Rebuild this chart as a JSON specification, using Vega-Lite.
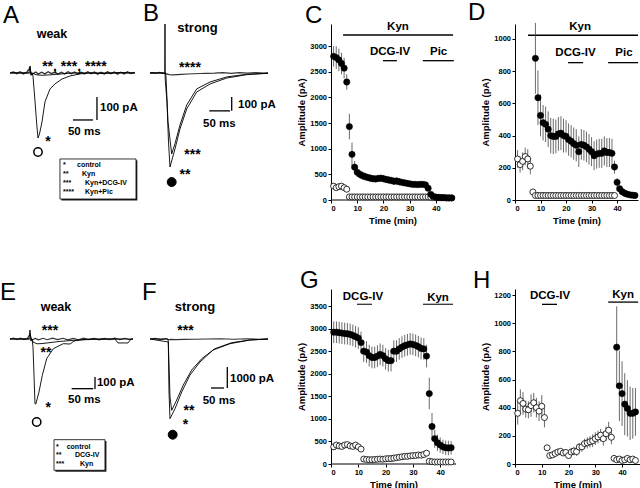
{
"$schema":"https://vega.github.io/schema/vega-lite/v6.json",
"padding":{"left":0,"top":0,"right":0,"bottom":0},
"config":{"view":{"stroke":null},"font":"Liberation Sans","text":{"color":"black"},
 "title":{"fontSize":24,"fontWeight":"normal","anchor":"start","frame":"group","baseline":"top","color":"black","font":"Liberation Sans"},
 "axis":{"labelFontSize":7.5,"labelFontWeight":"bold","titleFontSize":9.5,"titleFontWeight":"bold","tickSize":3,"domainColor":"black","tickColor":"black","labelColor":"black","titleColor":"black","grid":false,"labelPadding":1.5,"titlePadding":3,"format":"d"}},
"datasets":{
"A_tr":[
{"k":"c","x":-48.4,"y":0},{"k":"c","x":-2.4,"y":0},{"k":"c","x":0,"y":30},{"k":"c","x":2.4,"y":-9},{"k":"c","x":4.8,"y":0},{"k":"c","x":7.3,"y":-13},{"k":"c","x":12.1,"y":-120},{"k":"c","x":16.9,"y":-232},{"k":"c","x":19.4,"y":-279},{"k":"c","x":23,"y":-262},{"k":"c","x":29.1,"y":-210},{"k":"c","x":36.3,"y":-124},{"k":"c","x":48.4,"y":-69},{"k":"c","x":60.5,"y":-47},{"k":"c","x":77.5,"y":-26},{"k":"c","x":96.9,"y":-13},{"k":"c","x":121,"y":-4},{"k":"c","x":145,"y":0},{"k":"c","x":180,"y":-3},{"k":"c","x":215,"y":2},{"k":"c","x":254,"y":0},
{"k":"b","x":-48,"y":0},{"k":"b","x":-40,"y":4},{"k":"b","x":-32,"y":-3},{"k":"b","x":-24,"y":5},{"k":"b","x":-16,"y":-4},{"k":"b","x":-8,"y":3},{"k":"b","x":0,"y":22},{"k":"b","x":3,"y":-8},{"k":"b","x":8,"y":-3},{"k":"b","x":14,"y":4},{"k":"b","x":20,"y":-5},{"k":"b","x":28,"y":3},{"k":"b","x":36,"y":-4},{"k":"b","x":44,"y":5},{"k":"b","x":52,"y":-3},{"k":"b","x":60,"y":4},{"k":"b","x":68,"y":-5},{"k":"b","x":76,"y":3},{"k":"b","x":84,"y":-4},{"k":"b","x":92,"y":5},{"k":"b","x":100,"y":-3},{"k":"b","x":108,"y":4},{"k":"b","x":116,"y":-5},{"k":"b","x":124,"y":3},{"k":"b","x":132,"y":-4},{"k":"b","x":140,"y":5},{"k":"b","x":148,"y":-3},{"k":"b","x":156,"y":4},{"k":"b","x":164,"y":-5},{"k":"b","x":172,"y":3},{"k":"b","x":180,"y":-4},{"k":"b","x":188,"y":5},{"k":"b","x":196,"y":-3},{"k":"b","x":204,"y":4},{"k":"b","x":212,"y":-5},{"k":"b","x":220,"y":3},{"k":"b","x":228,"y":-4},{"k":"b","x":236,"y":5},{"k":"b","x":244,"y":-3},{"k":"b","x":254,"y":2},
{"k":"k","x":-48,"y":0},{"k":"k","x":5,"y":0},{"k":"k","x":15,"y":-8},{"k":"k","x":30,"y":-10},{"k":"k","x":50,"y":-8},{"k":"k","x":70,"y":-5},{"k":"k","x":90,"y":-2},{"k":"k","x":110,"y":0},{"k":"k","x":254,"y":0}],
"A_bar":[{"x":162.2,"x2":162.2,"y":-103,"y2":-201.7},{"x":104.1,"x2":152.5,"y":-201.7,"y2":-201.7}],
"A_box":[{"k":"sh","x":76,"x2":260,"y":-375,"y2":-547},{"k":"bx","x":72.6,"x2":256.7,"y":-369,"y2":-540.8}],
"A_tx":[
{"r":"lab","x":53.3,"y":167.4,"t":"weak"},
{"r":"ast","x":107.7,"y":25.8,"t":"**, ***, ****"},{"r":"ast","x":43.6,"y":-296,"t":"*"},
{"r":"bar","x":169.5,"y":-150,"t":"100 pA"},{"r":"bar","x":92,"y":-253,"t":"50 ms"},
{"r":"leg","x":79.9,"y":-394,"t":"*"},{"r":"leg","x":79.9,"y":-433,"t":"**"},{"r":"leg","x":79.9,"y":-472,"t":"***"},{"r":"leg","x":79.9,"y":-511,"t":"****"},
{"r":"leg","x":113.8,"y":-394,"t":"control"},{"r":"leg","x":125.9,"y":-433,"t":"Kyn"},{"r":"leg","x":133.2,"y":-472,"t":"Kyn+DCG-IV"},{"r":"leg","x":133.2,"y":-511,"t":"Kyn+Pic"}],
"A_sym":[{"x":19.4,"y":-339}],
"B_tr":[
{"k":"o","x":-36.3,"y":0},{"k":"o","x":-0.5,"y":0},{"k":"o","x":0,"y":368},{"k":"o","x":0.5,"y":-45},{"k":"o","x":4.8,"y":-218},{"k":"o","x":8.5,"y":-519},{"k":"o","x":12.1,"y":-707},{"k":"o","x":24.2,"y":-571},{"k":"o","x":36.3,"y":-421},{"k":"o","x":52.5,"y":-271},{"k":"o","x":76.8,"y":-143},{"k":"o","x":109,"y":-83},{"k":"o","x":149.4,"y":-38},{"k":"o","x":197.8,"y":-13},{"k":"o","x":249.4,"y":-2},
{"k":"i","x":-36.3,"y":0},{"k":"i","x":1.5,"y":0},{"k":"i","x":2.4,"y":-30},{"k":"i","x":7.3,"y":-368},{"k":"i","x":16.2,"y":-609},{"k":"i","x":24.2,"y":-532},{"k":"i","x":36.3,"y":-391},{"k":"i","x":52.5,"y":-241},{"k":"i","x":76.8,"y":-120},{"k":"i","x":109,"y":-68},{"k":"i","x":149.4,"y":-30},{"k":"i","x":197.8,"y":-10},{"k":"i","x":249.4,"y":-2},
{"k":"b","x":-36.3,"y":0},{"k":"b","x":-30,"y":3},{"k":"b","x":-22,"y":-3},{"k":"b","x":-14,"y":4},{"k":"b","x":-6,"y":-3},{"k":"b","x":2,"y":-5},{"k":"b","x":10,"y":-12},{"k":"b","x":20,"y":-15},{"k":"b","x":30,"y":-12},{"k":"b","x":40,"y":-10},{"k":"b","x":55,"y":-8},{"k":"b","x":70,"y":-6},{"k":"b","x":85,"y":-4},{"k":"b","x":100,"y":-3},{"k":"b","x":120,"y":-2},{"k":"b","x":140,"y":2},{"k":"b","x":160,"y":-3},{"k":"b","x":180,"y":2},{"k":"b","x":200,"y":-2},{"k":"b","x":220,"y":2},{"k":"b","x":240,"y":-1},{"k":"b","x":249.4,"y":0}],
"B_bar":[{"x":161.5,"x2":161.5,"y":-180,"y2":-285},{"x":107.3,"x2":157.4,"y":-285,"y2":-285}],
"B_tx":[
{"r":"lab","x":78.7,"y":338,"t":"strong"},
{"r":"ast","x":60.5,"y":37.6,"t":"****"},{"r":"ast","x":66.6,"y":-617,"t":"***"},{"r":"ast","x":48.4,"y":-767,"t":"**"},
{"r":"bar","x":176.8,"y":-240.6,"t":"100 pA"},{"r":"bar","x":92,"y":-387,"t":"50 ms"}],
"B_sym":[{"x":16.2,"y":-820}],
"E_tr":[
{"k":"c","x":-46.3,"y":0},{"k":"c","x":-2.3,"y":0},{"k":"c","x":0,"y":75},{"k":"c","x":2.3,"y":-17},{"k":"c","x":4.6,"y":0},{"k":"c","x":6.9,"y":-60},{"k":"c","x":9.3,"y":-300},{"k":"c","x":11.6,"y":-540},{"k":"c","x":13.5,"y":-542},{"k":"c","x":20.8,"y":-442},{"k":"c","x":28.5,"y":-303},{"k":"c","x":38.6,"y":-164},{"k":"c","x":54,"y":-81},{"k":"c","x":77,"y":-39},{"k":"c","x":92.6,"y":-42},{"k":"c","x":101.9,"y":-17},{"k":"c","x":115.7,"y":-8},{"k":"c","x":138.9,"y":0},{"k":"c","x":196.8,"y":0},{"k":"c","x":203.7,"y":-33},{"k":"c","x":226.9,"y":-33},{"k":"c","x":233.8,"y":0},{"k":"c","x":238.4,"y":0},
{"k":"d","x":-46.3,"y":0},{"k":"d","x":4.6,"y":0},{"k":"d","x":6.9,"y":-25},{"k":"d","x":16.2,"y":-40},{"k":"d","x":27.8,"y":-38},{"k":"d","x":46.3,"y":-30},{"k":"d","x":69.4,"y":-20},{"k":"d","x":104.2,"y":-10},{"k":"d","x":138.9,"y":-4},{"k":"d","x":185.2,"y":0},{"k":"d","x":238.4,"y":0},
{"k":"b","x":-46.3,"y":0},{"k":"b","x":-38,"y":8},{"k":"b","x":-30,"y":-6},{"k":"b","x":-22,"y":7},{"k":"b","x":-14,"y":-5},{"k":"b","x":-6,"y":6},{"k":"b","x":0,"y":40},{"k":"b","x":4,"y":-8},{"k":"b","x":12,"y":5},{"k":"b","x":20,"y":-7},{"k":"b","x":30,"y":6},{"k":"b","x":40,"y":-6},{"k":"b","x":52,"y":7},{"k":"b","x":64,"y":-5},{"k":"b","x":76,"y":6},{"k":"b","x":88,"y":-7},{"k":"b","x":100,"y":5},{"k":"b","x":112,"y":-6},{"k":"b","x":124,"y":7},{"k":"b","x":136,"y":-5},{"k":"b","x":148,"y":6},{"k":"b","x":160,"y":-7},{"k":"b","x":172,"y":5},{"k":"b","x":184,"y":-6},{"k":"b","x":196,"y":7},{"k":"b","x":208,"y":-5},{"k":"b","x":220,"y":6},{"k":"b","x":230,"y":-6},{"k":"b","x":238.4,"y":0}],
"E_bar":[{"x":150.5,"x2":150.5,"y":-316.7,"y2":-416.7},{"x":96.5,"x2":146.5,"y":-414,"y2":-414}],
"E_box":[{"k":"sh","x":59,"x2":177,"y":-851,"y2":-1106},{"k":"bx","x":55.6,"x2":173.6,"y":-839,"y2":-1094}],
"E_tx":[
{"r":"lab","x":60.2,"y":266.7,"t":"weak"},
{"r":"ast","x":46.3,"y":70.8,"t":"***"},{"r":"ast","x":37,"y":-112.5,"t":"**"},{"r":"ast","x":42.4,"y":-577.5,"t":"*"},
{"r":"bar","x":155,"y":-366.7,"t":"100 pA"},{"r":"bar","x":88,"y":-508,"t":"50 ms"},
{"r":"leg","x":60.2,"y":-900,"t":"*"},{"r":"leg","x":60.2,"y":-967,"t":"**"},{"r":"leg","x":60.2,"y":-1042,"t":"***"},
{"r":"leg","x":85,"y":-900,"t":"control"},{"r":"leg","x":104,"y":-967,"t":"DCG-IV"},{"r":"leg","x":115.7,"y":-1042,"t":"Kyn"}],
"E_sym":[{"x":15.5,"y":-691.7}],
"F_tr":[
{"k":"o","x":-70.4,"y":0},{"k":"o","x":-1,"y":0},{"k":"o","x":0,"y":-150},{"k":"o","x":2.7,"y":-2650},{"k":"o","x":6.5,"y":-3985},{"k":"o","x":25.8,"y":-3485},{"k":"o","x":51.5,"y":-2650},{"k":"o","x":83.5,"y":-1800},{"k":"o","x":121.9,"y":-1150},{"k":"o","x":171.9,"y":-550},{"k":"o","x":237.3,"y":-235},{"k":"o","x":314.2,"y":-50},{"k":"o","x":383.5,"y":0},
{"k":"i","x":-70.4,"y":0},{"k":"i","x":0,"y":-150},{"k":"i","x":6.5,"y":-2900},{"k":"i","x":13.1,"y":-3565},{"k":"i","x":32.3,"y":-3050},{"k":"i","x":57.7,"y":-2300},{"k":"i","x":90,"y":-1550},{"k":"i","x":128.5,"y":-985},{"k":"i","x":179.6,"y":-485},{"k":"i","x":243.8,"y":-185},{"k":"i","x":314.2,"y":-50},{"k":"i","x":383.5,"y":0},
{"k":"b","x":-70.4,"y":0},{"k":"b","x":-50,"y":30},{"k":"b","x":-30,"y":-30},{"k":"b","x":-10,"y":20},{"k":"b","x":0,"y":-40},{"k":"b","x":10,"y":-20},{"k":"b","x":30,"y":-30},{"k":"b","x":60,"y":-20},{"k":"b","x":100,"y":-15},{"k":"b","x":150,"y":0},{"k":"b","x":200,"y":10},{"k":"b","x":250,"y":-10},{"k":"b","x":300,"y":10},{"k":"b","x":350,"y":-10},{"k":"b","x":383.5,"y":0}],
"F_bar":[{"x":226.9,"x2":226.9,"y":-1400,"y2":-2450},{"x":164.2,"x2":214.2,"y":-2450,"y2":-2450}],
"F_tx":[
{"r":"lab","x":102.7,"y":1600,"t":"strong"},
{"r":"ast","x":66.2,"y":425,"t":"***"},{"r":"ast","x":79.6,"y":-3575,"t":"**"},{"r":"ast","x":66.2,"y":-4275,"t":"*"},
{"r":"bar","x":237.3,"y":-2000,"t":"1000 pA"},{"r":"bar","x":132.3,"y":-3100,"t":"50 ms"}],
"F_sym":[{"x":16.9,"y":-4785}],
"C":[
{"p":"s","x":1,"y":2800,"e":200},{"p":"s","x":2,"y":2775,"e":220},{"p":"s","x":3,"y":2730,"e":220},{"p":"s","x":4,"y":2660,"e":210},{"p":"s","x":5,"y":2570,"e":200},{"p":"s","x":6,"y":2300,"e":150},{"p":"s","x":7,"y":1430,"e":250},{"p":"s","x":8,"y":890,"e":230},{"p":"s","x":9,"y":640,"e":120},{"p":"s","x":10,"y":540,"e":90},{"p":"s","x":11,"y":500,"e":80},{"p":"s","x":12,"y":475,"e":80},{"p":"s","x":13,"y":455,"e":75},{"p":"s","x":14,"y":440,"e":70},{"p":"s","x":15,"y":425,"e":70},{"p":"s","x":16,"y":415,"e":70},{"p":"s","x":17,"y":410,"e":70},{"p":"s","x":18,"y":420,"e":70},{"p":"s","x":19,"y":425,"e":70},{"p":"s","x":20,"y":415,"e":70},{"p":"s","x":21,"y":400,"e":70},{"p":"s","x":22,"y":390,"e":70},{"p":"s","x":23,"y":380,"e":70},{"p":"s","x":24,"y":365,"e":70},{"p":"s","x":25,"y":370,"e":70},{"p":"s","x":26,"y":355,"e":70},{"p":"s","x":27,"y":345,"e":65},{"p":"s","x":28,"y":335,"e":65},{"p":"s","x":29,"y":325,"e":65},{"p":"s","x":30,"y":315,"e":60},{"p":"s","x":31,"y":305,"e":60},{"p":"s","x":32,"y":305,"e":60},{"p":"s","x":33,"y":300,"e":60},{"p":"s","x":34,"y":305,"e":60},{"p":"s","x":35,"y":305,"e":60},{"p":"s","x":36,"y":295,"e":60},{"p":"s","x":37,"y":230,"e":60},{"p":"s","x":38,"y":110,"e":30},{"p":"s","x":39,"y":70,"e":20},{"p":"s","x":40,"y":55,"e":15},{"p":"s","x":41,"y":50,"e":15},{"p":"s","x":42,"y":45,"e":12},{"p":"s","x":43,"y":45,"e":12},{"p":"s","x":44,"y":42,"e":12},{"p":"s","x":45,"y":40,"e":12},{"p":"s","x":46,"y":40,"e":12},
{"p":"w","x":1,"y":270,"e":40},{"p":"w","x":2,"y":240,"e":40},{"p":"w","x":3,"y":260,"e":40},{"p":"w","x":4,"y":270,"e":40},{"p":"w","x":5,"y":240,"e":40},{"p":"w","x":6,"y":210,"e":40},
{"p":"w","x":7,"y":60,"e":15},{"p":"w","x":8,"y":60,"e":15},{"p":"w","x":9,"y":60,"e":15},{"p":"w","x":10,"y":60,"e":15},{"p":"w","x":11,"y":60,"e":15},{"p":"w","x":12,"y":60,"e":15},{"p":"w","x":13,"y":60,"e":15},{"p":"w","x":14,"y":60,"e":15},{"p":"w","x":15,"y":60,"e":15},{"p":"w","x":16,"y":60,"e":15},{"p":"w","x":17,"y":60,"e":15},{"p":"w","x":18,"y":60,"e":15},{"p":"w","x":19,"y":60,"e":15},{"p":"w","x":20,"y":60,"e":15},{"p":"w","x":21,"y":60,"e":15},{"p":"w","x":22,"y":60,"e":15},{"p":"w","x":23,"y":60,"e":15},{"p":"w","x":24,"y":60,"e":15},{"p":"w","x":25,"y":60,"e":15},{"p":"w","x":26,"y":60,"e":15},{"p":"w","x":27,"y":60,"e":15},{"p":"w","x":28,"y":60,"e":15},{"p":"w","x":29,"y":60,"e":15},{"p":"w","x":30,"y":60,"e":15},{"p":"w","x":31,"y":60,"e":15},{"p":"w","x":32,"y":60,"e":15},{"p":"w","x":33,"y":60,"e":15},{"p":"w","x":34,"y":60,"e":15},{"p":"w","x":35,"y":60,"e":15},{"p":"w","x":36,"y":60,"e":15},{"p":"w","x":37,"y":60,"e":15},{"p":"w","x":38,"y":55,"e":12},{"p":"w","x":39,"y":50,"e":12},{"p":"w","x":40,"y":50,"e":12},{"p":"w","x":41,"y":45,"e":12},{"p":"w","x":42,"y":45,"e":12},{"p":"w","x":43,"y":45,"e":12},{"p":"w","x":44,"y":40,"e":12},{"p":"w","x":45,"y":40,"e":12},{"p":"w","x":46,"y":40,"e":12}],
"C_drug":[{"k":"ax","x":0,"x2":46.86,"y":0},{"k":"d","x":4.6,"x2":46.5,"y":3216},{"k":"d","x":19.8,"x2":25.1,"y":2715},{"k":"d","x":35,"x2":46.8,"y":2715}],
"C_lab":[{"x":25.5,"y":3372,"t":"Kyn"},{"x":22.5,"y":2885,"t":"DCG-IV"},{"x":41,"y":2885,"t":"Pic"}],
"D":[
{"p":"s","x":8,"y":880,"e":220},{"p":"s","x":9,"y":635,"e":170},{"p":"s","x":10,"y":525,"e":130},{"p":"s","x":11,"y":480,"e":110},{"p":"s","x":12,"y":470,"e":110},{"p":"s","x":13,"y":440,"e":110},{"p":"s","x":14,"y":400,"e":110},{"p":"s","x":15,"y":395,"e":110},{"p":"s","x":16,"y":395,"e":105},{"p":"s","x":17,"y":410,"e":105},{"p":"s","x":18,"y":415,"e":105},{"p":"s","x":19,"y":400,"e":105},{"p":"s","x":20,"y":395,"e":100},{"p":"s","x":21,"y":375,"e":100},{"p":"s","x":22,"y":365,"e":100},{"p":"s","x":23,"y":350,"e":100},{"p":"s","x":24,"y":340,"e":100},{"p":"s","x":25,"y":300,"e":95},{"p":"s","x":26,"y":345,"e":95},{"p":"s","x":27,"y":340,"e":95},{"p":"s","x":28,"y":330,"e":95},{"p":"s","x":29,"y":315,"e":95},{"p":"s","x":30,"y":300,"e":90},{"p":"s","x":31,"y":275,"e":90},{"p":"s","x":32,"y":285,"e":90},{"p":"s","x":33,"y":290,"e":90},{"p":"s","x":34,"y":290,"e":90},{"p":"s","x":35,"y":305,"e":90},{"p":"s","x":36,"y":295,"e":90},{"p":"s","x":37,"y":295,"e":90},{"p":"s","x":38,"y":290,"e":90},{"p":"s","x":39,"y":205,"e":40},{"p":"s","x":40,"y":110,"e":25},{"p":"s","x":41,"y":70,"e":15},{"p":"s","x":42,"y":52,"e":12},{"p":"s","x":43,"y":42,"e":10},{"p":"s","x":44,"y":36,"e":10},{"p":"s","x":45,"y":32,"e":8},{"p":"s","x":46,"y":30,"e":8},{"p":"s","x":47,"y":28,"e":8},
{"p":"w","x":1,"y":255,"e":55},{"p":"w","x":2,"y":220,"e":50},{"p":"w","x":3,"y":240,"e":55},{"p":"w","x":4,"y":270,"e":55},{"p":"w","x":5,"y":255,"e":60},{"p":"w","x":6,"y":210,"e":50},{"p":"w","x":7,"y":50,"e":10},
{"p":"w","x":8,"y":28,"e":6},{"p":"w","x":9,"y":28,"e":6},{"p":"w","x":10,"y":28,"e":6},{"p":"w","x":11,"y":28,"e":6},{"p":"w","x":12,"y":28,"e":6},{"p":"w","x":13,"y":28,"e":6},{"p":"w","x":14,"y":28,"e":6},{"p":"w","x":15,"y":28,"e":6},{"p":"w","x":16,"y":28,"e":6},{"p":"w","x":17,"y":28,"e":6},{"p":"w","x":18,"y":28,"e":6},{"p":"w","x":19,"y":28,"e":6},{"p":"w","x":20,"y":28,"e":6},{"p":"w","x":21,"y":28,"e":6},{"p":"w","x":22,"y":28,"e":6},{"p":"w","x":23,"y":28,"e":6},{"p":"w","x":24,"y":28,"e":6},{"p":"w","x":25,"y":28,"e":6},{"p":"w","x":26,"y":28,"e":6},{"p":"w","x":27,"y":28,"e":6},{"p":"w","x":28,"y":28,"e":6},{"p":"w","x":29,"y":28,"e":6},{"p":"w","x":30,"y":28,"e":6},{"p":"w","x":31,"y":28,"e":6},{"p":"w","x":32,"y":28,"e":6},{"p":"w","x":33,"y":28,"e":6},{"p":"w","x":34,"y":28,"e":6},{"p":"w","x":35,"y":28,"e":6},{"p":"w","x":36,"y":28,"e":6},{"p":"w","x":37,"y":28,"e":6},{"p":"w","x":38,"y":28,"e":6},{"p":"w","x":39,"y":28,"e":6}],
"D_drug":[{"x":5.1,"x2":48.2,"y":1023},{"x":20.8,"x2":26.7,"y":853},{"x":36.5,"x2":48.2,"y":853}],
"D_lab":[{"x":25.5,"y":1075,"t":"Kyn"},{"x":23.7,"y":913,"t":"DCG-IV"},{"x":42.7,"y":913,"t":"Pic"}],
"G":[
{"p":"s","x":1,"y":2920,"e":240},{"p":"s","x":2,"y":2920,"e":240},{"p":"s","x":3,"y":2910,"e":240},{"p":"s","x":4,"y":2900,"e":240},{"p":"s","x":5,"y":2890,"e":240},{"p":"s","x":6,"y":2885,"e":240},{"p":"s","x":7,"y":2870,"e":240},{"p":"s","x":8,"y":2850,"e":240},{"p":"s","x":9,"y":2820,"e":240},{"p":"s","x":10,"y":2790,"e":240},{"p":"s","x":11,"y":2690,"e":240},{"p":"s","x":12,"y":2500,"e":240},{"p":"s","x":13,"y":2480,"e":240},{"p":"s","x":14,"y":2400,"e":240},{"p":"s","x":15,"y":2360,"e":240},{"p":"s","x":16,"y":2360,"e":240},{"p":"s","x":17,"y":2390,"e":240},{"p":"s","x":18,"y":2430,"e":240},{"p":"s","x":19,"y":2400,"e":240},{"p":"s","x":20,"y":2330,"e":240},{"p":"s","x":21,"y":2290,"e":240},{"p":"s","x":22,"y":2290,"e":240},{"p":"s","x":23,"y":2500,"e":240},{"p":"s","x":24,"y":2500,"e":240},{"p":"s","x":25,"y":2550,"e":240},{"p":"s","x":26,"y":2590,"e":240},{"p":"s","x":27,"y":2620,"e":240},{"p":"s","x":28,"y":2640,"e":240},{"p":"s","x":29,"y":2660,"e":240},{"p":"s","x":30,"y":2650,"e":240},{"p":"s","x":31,"y":2630,"e":240},{"p":"s","x":32,"y":2600,"e":240},{"p":"s","x":33,"y":2560,"e":240},{"p":"s","x":34,"y":2550,"e":240},{"p":"s","x":35,"y":2390,"e":250},{"p":"s","x":36,"y":1560,"e":350},{"p":"s","x":37,"y":830,"e":300},{"p":"s","x":38,"y":560,"e":200},{"p":"s","x":39,"y":470,"e":180},{"p":"s","x":40,"y":420,"e":170},{"p":"s","x":41,"y":380,"e":160},{"p":"s","x":42,"y":360,"e":160},{"p":"s","x":43,"y":355,"e":160},{"p":"s","x":44,"y":360,"e":150},
{"p":"w","x":1,"y":380,"e":70},{"p":"w","x":2,"y":420,"e":70},{"p":"w","x":3,"y":400,"e":70},{"p":"w","x":4,"y":390,"e":70},{"p":"w","x":5,"y":420,"e":60},{"p":"w","x":6,"y":430,"e":60},{"p":"w","x":7,"y":400,"e":60},{"p":"w","x":8,"y":390,"e":60},{"p":"w","x":9,"y":420,"e":60},{"p":"w","x":10,"y":380,"e":60},{"p":"w","x":11,"y":330,"e":50},{"p":"w","x":12,"y":110,"e":30},{"p":"w","x":13,"y":100,"e":30},{"p":"w","x":14,"y":95,"e":30},{"p":"w","x":15,"y":95,"e":30},{"p":"w","x":16,"y":100,"e":30},{"p":"w","x":17,"y":105,"e":30},{"p":"w","x":18,"y":110,"e":30},{"p":"w","x":19,"y":105,"e":30},{"p":"w","x":20,"y":115,"e":30},{"p":"w","x":21,"y":120,"e":30},{"p":"w","x":22,"y":120,"e":30},{"p":"w","x":23,"y":130,"e":30},{"p":"w","x":24,"y":140,"e":30},{"p":"w","x":25,"y":150,"e":30},{"p":"w","x":26,"y":160,"e":30},{"p":"w","x":27,"y":170,"e":30},{"p":"w","x":28,"y":170,"e":30},{"p":"w","x":29,"y":180,"e":30},{"p":"w","x":30,"y":185,"e":30},{"p":"w","x":31,"y":190,"e":30},{"p":"w","x":32,"y":200,"e":30},{"p":"w","x":33,"y":195,"e":30},{"p":"w","x":34,"y":210,"e":30},{"p":"w","x":35,"y":240,"e":35},{"p":"w","x":36,"y":60,"e":15},{"p":"w","x":37,"y":50,"e":10},{"p":"w","x":38,"y":45,"e":10},{"p":"w","x":39,"y":45,"e":10},{"p":"w","x":40,"y":45,"e":10},{"p":"w","x":41,"y":45,"e":10},{"p":"w","x":42,"y":45,"e":10},{"p":"w","x":43,"y":45,"e":10},{"p":"w","x":44,"y":45,"e":10}],
"G_drug":[{"k":"ax","x":0,"x2":45.8,"y":0},{"k":"d","x":9.5,"x2":15,"y":3538},{"k":"d","x":33.7,"x2":44.7,"y":3538}],
"G_lab":[{"x":11.7,"y":3700,"t":"DCG-IV"},{"x":39.2,"y":3677,"t":"Kyn"}],
"H":[
{"p":"w","x":1,"y":360,"e":80},{"p":"w","x":2,"y":450,"e":80},{"p":"w","x":3,"y":430,"e":80},{"p":"w","x":4,"y":390,"e":60},{"p":"w","x":5,"y":385,"e":60},{"p":"w","x":6,"y":415,"e":80},{"p":"w","x":7,"y":435,"e":70},{"p":"w","x":8,"y":400,"e":70},{"p":"w","x":9,"y":375,"e":70},{"p":"w","x":10,"y":410,"e":80},{"p":"w","x":11,"y":330,"e":70},{"p":"w","x":12,"y":115,"e":20},{"p":"w","x":13,"y":60,"e":15},{"p":"w","x":14,"y":65,"e":15},{"p":"w","x":15,"y":75,"e":15},{"p":"w","x":16,"y":85,"e":20},{"p":"w","x":17,"y":90,"e":20},{"p":"w","x":18,"y":78,"e":20},{"p":"w","x":19,"y":82,"e":20},{"p":"w","x":20,"y":60,"e":20},{"p":"w","x":21,"y":85,"e":30},{"p":"w","x":22,"y":92,"e":30},{"p":"w","x":23,"y":88,"e":30},{"p":"w","x":24,"y":120,"e":30},{"p":"w","x":25,"y":122,"e":35},{"p":"w","x":26,"y":145,"e":35},{"p":"w","x":27,"y":150,"e":40},{"p":"w","x":28,"y":158,"e":40},{"p":"w","x":29,"y":165,"e":45},{"p":"w","x":30,"y":180,"e":45},{"p":"w","x":31,"y":192,"e":45},{"p":"w","x":32,"y":205,"e":45},{"p":"w","x":33,"y":180,"e":50},{"p":"w","x":34,"y":215,"e":50},{"p":"w","x":35,"y":240,"e":60},{"p":"w","x":36,"y":190,"e":50},{"p":"w","x":37,"y":40,"e":10},{"p":"w","x":38,"y":30,"e":10},{"p":"w","x":39,"y":35,"e":10},{"p":"w","x":40,"y":25,"e":10},{"p":"w","x":41,"y":30,"e":10},{"p":"w","x":42,"y":40,"e":10},{"p":"w","x":43,"y":30,"e":10},{"p":"w","x":44,"y":35,"e":10},{"p":"w","x":45,"y":25,"e":10},
{"p":"s","x":38,"y":830,"e":290},{"p":"s","x":39,"y":555,"e":250},{"p":"s","x":40,"y":500,"e":230},{"p":"s","x":41,"y":425,"e":220},{"p":"s","x":42,"y":395,"e":200},{"p":"s","x":43,"y":360,"e":190},{"p":"s","x":44,"y":360,"e":180},{"p":"s","x":45,"y":370,"e":170}],
"H_drug":[{"x":10.1,"x2":15.7,"y":1134},{"x":34.8,"x2":46,"y":1150}],
"H_lab":[{"x":13.1,"y":1193,"t":"DCG-IV"},{"x":40.4,"y":1200,"t":"Kyn"}]
},
"columns":4,
"spacing":{"row":89,"column":0},
"bounds":"flush",
"concat":[
  {"width":150,"height":176,"title":{"text":"A","dx":3,"offset":-4},
   "encoding":{"x":{"field":"x","type":"quantitative","scale":{"domain":[-72.6,290.6],"nice":false,"zero":false},"axis":null},"y":{"field":"y","type":"quantitative","scale":{"domain":[-545,210],"nice":false,"zero":false},"axis":null}},
   "layer":[
    {"data":{"name":"A_tr"},"transform":[{"filter":"datum.k=='b'"}],"mark":{"type":"line","color":"#333","strokeWidth":1.3}},
    {"data":{"name":"A_tr"},"transform":[{"filter":"datum.k!='b'"}],"mark":{"type":"line","color":"black","strokeWidth":0.9},"encoding":{"detail":{"field":"k"}}},
    {"data":{"name":"A_bar"},"mark":{"type":"rule","color":"black","strokeWidth":1.3},"encoding":{"x2":{"field":"x2"},"y2":{"field":"y2"}}},
    {"data":{"name":"A_box"},"transform":[{"filter":"datum.k=='sh'"}],"mark":{"type":"rect","fill":"#222"},"encoding":{"x2":{"field":"x2"},"y2":{"field":"y2"}}},
    {"data":{"name":"A_box"},"transform":[{"filter":"datum.k=='bx'"}],"mark":{"type":"rect","fill":"white","stroke":"black","strokeWidth":0.8},"encoding":{"x2":{"field":"x2"},"y2":{"field":"y2"}}},
    {"data":{"name":"A_tx"},"transform":[{"filter":"datum.r=='lab'"}],"mark":{"type":"text","color":"black","fontSize":12.5,"fontWeight":"bold","align":"center","baseline":"middle"},"encoding":{"text":{"field":"t"}}},
    {"data":{"name":"A_tx"},"transform":[{"filter":"datum.r=='ast'"}],"mark":{"type":"text","color":"black","fontSize":14,"fontWeight":"bold","align":"center","baseline":"middle"},"encoding":{"text":{"field":"t"}}},
    {"data":{"name":"A_tx"},"transform":[{"filter":"datum.r=='bar'"}],"mark":{"type":"text","color":"black","fontSize":11.5,"fontWeight":"bold","align":"left","baseline":"middle"},"encoding":{"text":{"field":"t"}}},
    {"data":{"name":"A_tx"},"transform":[{"filter":"datum.r=='leg'"}],"mark":{"type":"text","color":"black","fontSize":7,"fontWeight":"bold","align":"left","baseline":"middle"},"encoding":{"text":{"field":"t"}}},
    {"data":{"name":"A_sym"},"mark":{"type":"point","shape":"circle","filled":true,"fill":"white","stroke":"black","strokeWidth":1.5,"size":70,"opacity":1}}
   ]},
  {"width":181,"height":176,"title":{"text":"B","dx":-7,"offset":-4},
   "encoding":{"x":{"field":"x","type":"quantitative","scale":{"domain":[-36.3,401.9],"nice":false,"zero":false},"axis":null},"y":{"field":"y","type":"quantitative","scale":{"domain":[-955,368],"nice":false,"zero":false},"axis":null}},
   "layer":[
    {"data":{"name":"B_tr"},"transform":[{"filter":"datum.k=='b'"}],"mark":{"type":"line","color":"#333","strokeWidth":1.2}},
    {"data":{"name":"B_tr"},"transform":[{"filter":"datum.k!='b'"}],"mark":{"type":"line","color":"black","strokeWidth":0.9},"encoding":{"detail":{"field":"k"}}},
    {"data":{"name":"B_bar"},"mark":{"type":"rule","color":"black","strokeWidth":1.3},"encoding":{"x2":{"field":"x2"},"y2":{"field":"y2"}}},
    {"data":{"name":"B_tx"},"transform":[{"filter":"datum.r=='lab'"}],"mark":{"type":"text","color":"black","fontSize":13,"fontWeight":"bold","align":"center","baseline":"middle"},"encoding":{"text":{"field":"t"}}},
    {"data":{"name":"B_tx"},"transform":[{"filter":"datum.r=='ast'"}],"mark":{"type":"text","color":"black","fontSize":14,"fontWeight":"bold","align":"center","baseline":"middle"},"encoding":{"text":{"field":"t"}}},
    {"data":{"name":"B_tx"},"transform":[{"filter":"datum.r=='bar'"}],"mark":{"type":"text","color":"black","fontSize":11.5,"fontWeight":"bold","align":"left","baseline":"middle"},"encoding":{"text":{"field":"t"}}},
    {"data":{"name":"B_sym"},"mark":{"type":"point","shape":"circle","filled":true,"fill":"black","stroke":"black","strokeWidth":1,"size":80,"opacity":1}}
   ]},
  {"width":184,"height":176,"title":{"text":"C","dx":-26,"offset":-7},
   "encoding":{"x":{"field":"x","type":"quantitative","scale":{"domain":[0,70.1],"nice":false,"zero":false},"axis":{"values":[0,10,20,30,40],"title":"Time (min)","domain":false,"titleX":61.5,"titleAnchor":null,"titleAlign":"center"}},"y":{"field":"y","type":"quantitative","scale":{"domain":[0,3430],"nice":false},"axis":{"values":[0,500,1000,1500,2000,2500,3000],"title":"Amplitude (pA)"}}},
   "layer":[
    {"data":{"name":"C_drug"},"transform":[{"filter":"datum.k=='ax'"}],"mark":{"type":"rule","color":"black","strokeWidth":1},"encoding":{"x2":{"field":"x2"}}},
    {"data":{"name":"C_drug"},"transform":[{"filter":"datum.k=='d'"}],"mark":{"type":"rule","color":"black","strokeWidth":1.3},"encoding":{"x2":{"field":"x2"}}},
    {"data":{"name":"C_lab"},"mark":{"type":"text","color":"black","fontSize":11.5,"fontWeight":"bold","baseline":"middle"},"encoding":{"text":{"field":"t"}}},
    {"data":{"name":"C"},"mark":{"type":"errorbar","color":"#444","thickness":0.8},"encoding":{"yError":{"field":"e"}}},
    {"data":{"name":"C"},"transform":[{"filter":"datum.p=='w'"}],"mark":{"type":"point","shape":"circle","filled":true,"fill":"white","stroke":"black","strokeWidth":0.8,"size":36,"opacity":1}},
    {"data":{"name":"C"},"transform":[{"filter":"datum.p=='s'"}],"mark":{"type":"point","shape":"circle","filled":true,"fill":"black","stroke":"black","strokeWidth":0.5,"size":40,"opacity":1}}
   ]},
  {"width":123,"height":176,"title":{"text":"D","dx":-47,"offset":-4},
   "encoding":{"x":{"field":"x","type":"quantitative","scale":{"domain":[0,48.2],"nice":false,"zero":false},"axis":{"values":[0,10,20,30,40],"title":"Time (min)"}},"y":{"field":"y","type":"quantitative","scale":{"domain":[0,1093],"nice":false},"axis":{"values":[0,200,400,600,800,1000],"title":"Amplitude (pA)"}}},
   "layer":[
    {"data":{"name":"D_drug"},"mark":{"type":"rule","color":"black","strokeWidth":1.3},"encoding":{"x2":{"field":"x2"}}},
    {"data":{"name":"D_lab"},"mark":{"type":"text","color":"black","fontSize":11.5,"fontWeight":"bold","baseline":"middle"},"encoding":{"text":{"field":"t"}}},
    {"data":{"name":"D"},"mark":{"type":"errorbar","color":"#444","thickness":0.8},"encoding":{"yError":{"field":"e"}}},
    {"data":{"name":"D"},"transform":[{"filter":"datum.p=='w'"}],"mark":{"type":"point","shape":"circle","filled":true,"fill":"white","stroke":"black","strokeWidth":0.8,"size":36,"opacity":1}},
    {"data":{"name":"D"},"transform":[{"filter":"datum.p=='s'"}],"mark":{"type":"point","shape":"circle","filled":true,"fill":"black","stroke":"black","strokeWidth":0.5,"size":40,"opacity":1}}
   ]},
  {"width":150,"height":175,"title":{"text":"E","dx":0,"offset":-16},
   "encoding":{"x":{"field":"x","type":"quantitative","scale":{"domain":[-69.4,277.8],"nice":false,"zero":false},"axis":null},"y":{"field":"y","type":"quantitative","scale":{"domain":[-1041.7,416.7],"nice":false,"zero":false},"axis":null}},
   "layer":[
    {"data":{"name":"E_tr"},"transform":[{"filter":"datum.k=='b'"}],"mark":{"type":"line","color":"#333","strokeWidth":1.1}},
    {"data":{"name":"E_tr"},"transform":[{"filter":"datum.k!='b'"}],"mark":{"type":"line","color":"black","strokeWidth":0.9},"encoding":{"detail":{"field":"k"}}},
    {"data":{"name":"E_bar"},"mark":{"type":"rule","color":"black","strokeWidth":1.3},"encoding":{"x2":{"field":"x2"},"y2":{"field":"y2"}}},
    {"data":{"name":"E_box"},"transform":[{"filter":"datum.k=='sh'"}],"mark":{"type":"rect","fill":"#222"},"encoding":{"x2":{"field":"x2"},"y2":{"field":"y2"}}},
    {"data":{"name":"E_box"},"transform":[{"filter":"datum.k=='bx'"}],"mark":{"type":"rect","fill":"white","stroke":"black","strokeWidth":0.8},"encoding":{"x2":{"field":"x2"},"y2":{"field":"y2"}}},
    {"data":{"name":"E_tx"},"transform":[{"filter":"datum.r=='lab'"}],"mark":{"type":"text","color":"black","fontSize":12.5,"fontWeight":"bold","align":"center","baseline":"middle"},"encoding":{"text":{"field":"t"}}},
    {"data":{"name":"E_tx"},"transform":[{"filter":"datum.r=='ast'"}],"mark":{"type":"text","color":"black","fontSize":14,"fontWeight":"bold","align":"center","baseline":"middle"},"encoding":{"text":{"field":"t"}}},
    {"data":{"name":"E_tx"},"transform":[{"filter":"datum.r=='bar'"}],"mark":{"type":"text","color":"black","fontSize":11.5,"fontWeight":"bold","align":"left","baseline":"middle"},"encoding":{"text":{"field":"t"}}},
    {"data":{"name":"E_tx"},"transform":[{"filter":"datum.r=='leg'"}],"mark":{"type":"text","color":"black","fontSize":7,"fontWeight":"bold","align":"left","baseline":"middle"},"encoding":{"text":{"field":"t"}}},
    {"data":{"name":"E_sym"},"mark":{"type":"point","shape":"circle","filled":true,"fill":"white","stroke":"black","strokeWidth":1.5,"size":70,"opacity":1}}
   ]},
  {"width":181,"height":175,"title":{"text":"F","dx":-8,"offset":-16},
   "encoding":{"x":{"field":"x","type":"quantitative","scale":{"domain":[-70.4,625.8],"nice":false,"zero":false},"axis":null},"y":{"field":"y","type":"quantitative","scale":{"domain":[-6250,2500],"nice":false,"zero":false},"axis":null}},
   "layer":[
    {"data":{"name":"F_tr"},"transform":[{"filter":"datum.k=='b'"}],"mark":{"type":"line","color":"#333","strokeWidth":1.1}},
    {"data":{"name":"F_tr"},"transform":[{"filter":"datum.k!='b'"}],"mark":{"type":"line","color":"black","strokeWidth":0.9},"encoding":{"detail":{"field":"k"}}},
    {"data":{"name":"F_bar"},"mark":{"type":"rule","color":"black","strokeWidth":1.3},"encoding":{"x2":{"field":"x2"},"y2":{"field":"y2"}}},
    {"data":{"name":"F_tx"},"transform":[{"filter":"datum.r=='lab'"}],"mark":{"type":"text","color":"black","fontSize":13,"fontWeight":"bold","align":"center","baseline":"middle"},"encoding":{"text":{"field":"t"}}},
    {"data":{"name":"F_tx"},"transform":[{"filter":"datum.r=='ast'"}],"mark":{"type":"text","color":"black","fontSize":14,"fontWeight":"bold","align":"center","baseline":"middle"},"encoding":{"text":{"field":"t"}}},
    {"data":{"name":"F_tx"},"transform":[{"filter":"datum.r=='bar'"}],"mark":{"type":"text","color":"black","fontSize":11.5,"fontWeight":"bold","align":"left","baseline":"middle"},"encoding":{"text":{"field":"t"}}},
    {"data":{"name":"F_sym"},"mark":{"type":"point","shape":"circle","filled":true,"fill":"black","stroke":"black","strokeWidth":1,"size":80,"opacity":1}}
   ]},
  {"width":184,"height":175,"title":{"text":"G","dx":-31,"offset":-4},
   "encoding":{"x":{"field":"x","type":"quantitative","scale":{"domain":[0,67.4],"nice":false,"zero":false},"axis":{"values":[0,10,20,30,40],"title":"Time (min)","domain":false,"titleX":62.5,"titleAnchor":null,"titleAlign":"center"}},"y":{"field":"y","type":"quantitative","scale":{"domain":[0,3877],"nice":false},"axis":{"values":[0,500,1000,1500,2000,2500,3000,3500],"title":"Amplitude (pA)"}}},
   "layer":[
    {"data":{"name":"G_drug"},"transform":[{"filter":"datum.k=='ax'"}],"mark":{"type":"rule","color":"black","strokeWidth":1},"encoding":{"x2":{"field":"x2"}}},
    {"data":{"name":"G_drug"},"transform":[{"filter":"datum.k=='d'"}],"mark":{"type":"rule","color":"#333","strokeWidth":1.3},"encoding":{"x2":{"field":"x2"}}},
    {"data":{"name":"G_lab"},"mark":{"type":"text","color":"black","fontSize":11.5,"fontWeight":"bold","baseline":"middle"},"encoding":{"text":{"field":"t"}}},
    {"data":{"name":"G"},"mark":{"type":"errorbar","color":"#444","thickness":0.8},"encoding":{"yError":{"field":"e"}}},
    {"data":{"name":"G"},"transform":[{"filter":"datum.p=='w'"}],"mark":{"type":"point","shape":"circle","filled":true,"fill":"white","stroke":"black","strokeWidth":0.8,"size":36,"opacity":1}},
    {"data":{"name":"G"},"transform":[{"filter":"datum.p=='s'"}],"mark":{"type":"point","shape":"circle","filled":true,"fill":"black","stroke":"black","strokeWidth":0.5,"size":40,"opacity":1}}
   ]},
  {"width":125,"height":175,"title":{"text":"H","dx":-42,"offset":-4},
   "encoding":{"x":{"field":"x","type":"quantitative","scale":{"domain":[0,46.7],"nice":false,"zero":false},"axis":{"values":[0,10,20,30,40],"title":"Time (min)"}},"y":{"field":"y","type":"quantitative","scale":{"domain":[0,1243],"nice":false},"axis":{"values":[0,200,400,600,800,1000,1200],"title":"Amplitude (pA)"}}},
   "layer":[
    {"data":{"name":"H_drug"},"mark":{"type":"rule","color":"black","strokeWidth":1.3},"encoding":{"x2":{"field":"x2"}}},
    {"data":{"name":"H_lab"},"mark":{"type":"text","color":"black","fontSize":11.5,"fontWeight":"bold","baseline":"middle"},"encoding":{"text":{"field":"t"}}},
    {"data":{"name":"H"},"mark":{"type":"errorbar","color":"#444","thickness":0.8},"encoding":{"yError":{"field":"e"}}},
    {"data":{"name":"H"},"transform":[{"filter":"datum.p=='w'"}],"mark":{"type":"point","shape":"circle","filled":true,"fill":"white","stroke":"black","strokeWidth":0.8,"size":36,"opacity":1}},
    {"data":{"name":"H"},"transform":[{"filter":"datum.p=='s'"}],"mark":{"type":"point","shape":"circle","filled":true,"fill":"black","stroke":"black","strokeWidth":0.5,"size":40,"opacity":1}}
   ]}
]}
